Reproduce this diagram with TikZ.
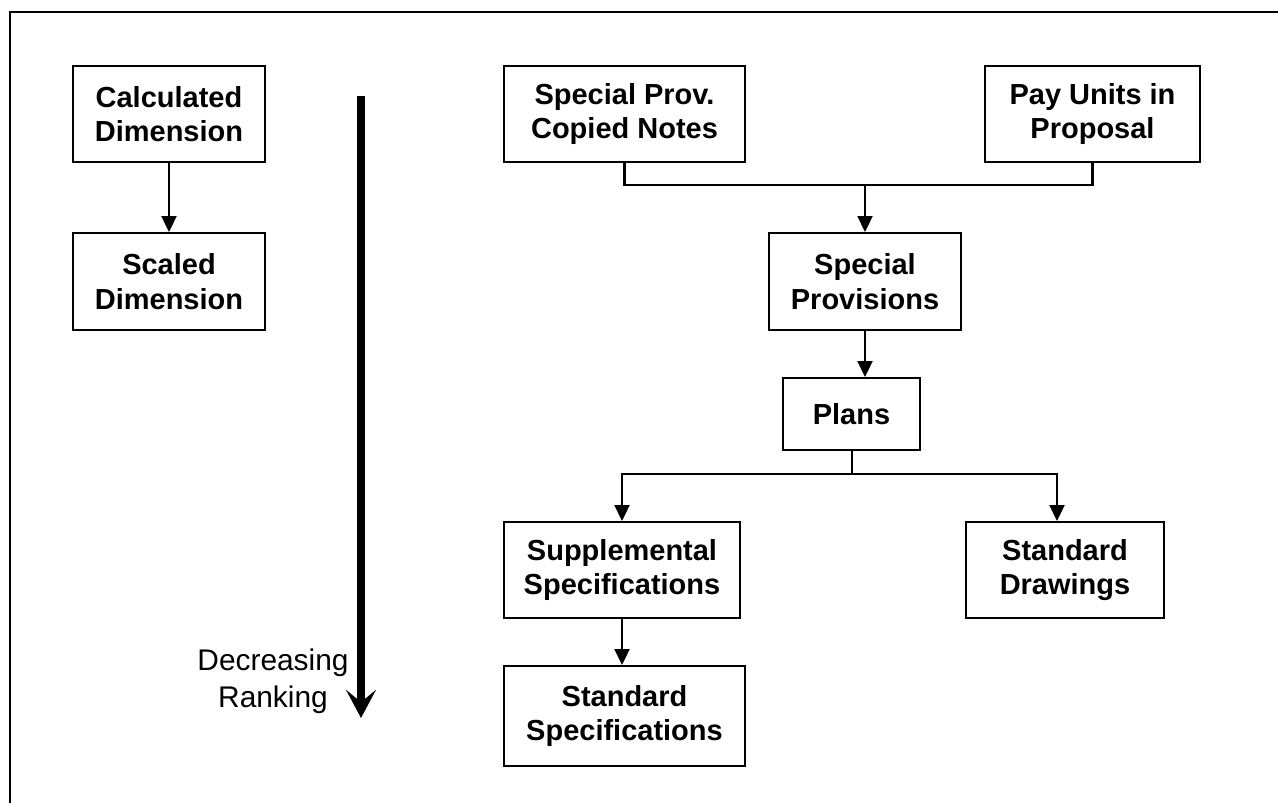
\documentclass[tikz,border=0pt]{standalone}
\usepackage{fontspec}
\setmainfont{Liberation Sans}
\usetikzlibrary{arrows.meta,calc}
\begin{document}
\begin{tikzpicture}[x=0.02cm,y=-0.02cm,
  box/.style={draw, line width=1.2pt, align=center, inner sep=0pt,
    font=\fontsize{16.5}{19.5}\selectfont\bfseries},
  link/.style={line width=1.2pt},
  arr/.style={link, -{Triangle[width=8.5pt,length=9pt]}},
  rank/.style={line width=4pt, -{Stealth[width=17pt,length=16pt,inset=7pt]}},
]
\useasboundingbox (0,0) rectangle (1278,802);
\clip (0,0) rectangle (1278,802);
% frame
\draw[line width=1.3pt] (10,12) rectangle (1330,860);

% left column
\node[box, minimum width=3.84cm, minimum height=1.92cm] (calc) at (169,114) {Calculated\\Dimension};
\node[box, minimum width=3.84cm, minimum height=1.94cm] (scaled) at (169,281.5) {Scaled\\Dimension};
\draw[arr] (calc.south) -- (scaled.north);

% ranking arrow
\coordinate (rtop) at (361,96);
\coordinate (rbot) at (361,718);
\draw[rank] (rtop) -- (rbot);
\node[align=center, inner sep=0pt, font=\fontsize{17}{21}\selectfont] (lbl) at (273,681) {Decreasing\\Ranking};

% document hierarchy
\node[box, minimum width=4.82cm, minimum height=1.92cm] (spc) at (624.5,114) {Special Prov.\\Copied Notes};
\node[box, minimum width=4.3cm, minimum height=1.92cm] (pay) at (1092.5,114) {Pay Units in\\Proposal};
\node[box, minimum width=3.84cm, minimum height=1.94cm] (prov) at (865,281.5) {Special\\Provisions};
\node[box, minimum width=2.74cm, minimum height=1.44cm] (plans) at (851.5,414) {Plans};
\node[box, minimum width=4.72cm, minimum height=1.92cm] (supp) at (622,570) {Supplemental\\Specifications};
\node[box, minimum width=3.96cm, minimum height=1.92cm] (sd) at (1065,570) {Standard\\Drawings};
\node[box, minimum width=4.82cm, minimum height=2.0cm] (stdspec) at (624.5,716) {Standard\\Specifications};

\coordinate (j1) at (865,185);
\draw[link] (spc.south) |- (j1) -| (pay.south);
\draw[arr] (j1) -- (prov.north);
\draw[arr] (prov.south) -- (prov.south |- plans.north);

\coordinate (j2) at (852,474);
\draw[link] (plans.south -| j2) -- (j2);
\draw[arr] (j2) -| (supp.north);
\draw[arr] (j2) -| ($(sd.north)+(-8,0)$);
\draw[arr] (supp.south) -- (supp.south |- stdspec.north);
\end{tikzpicture}
\end{document}
